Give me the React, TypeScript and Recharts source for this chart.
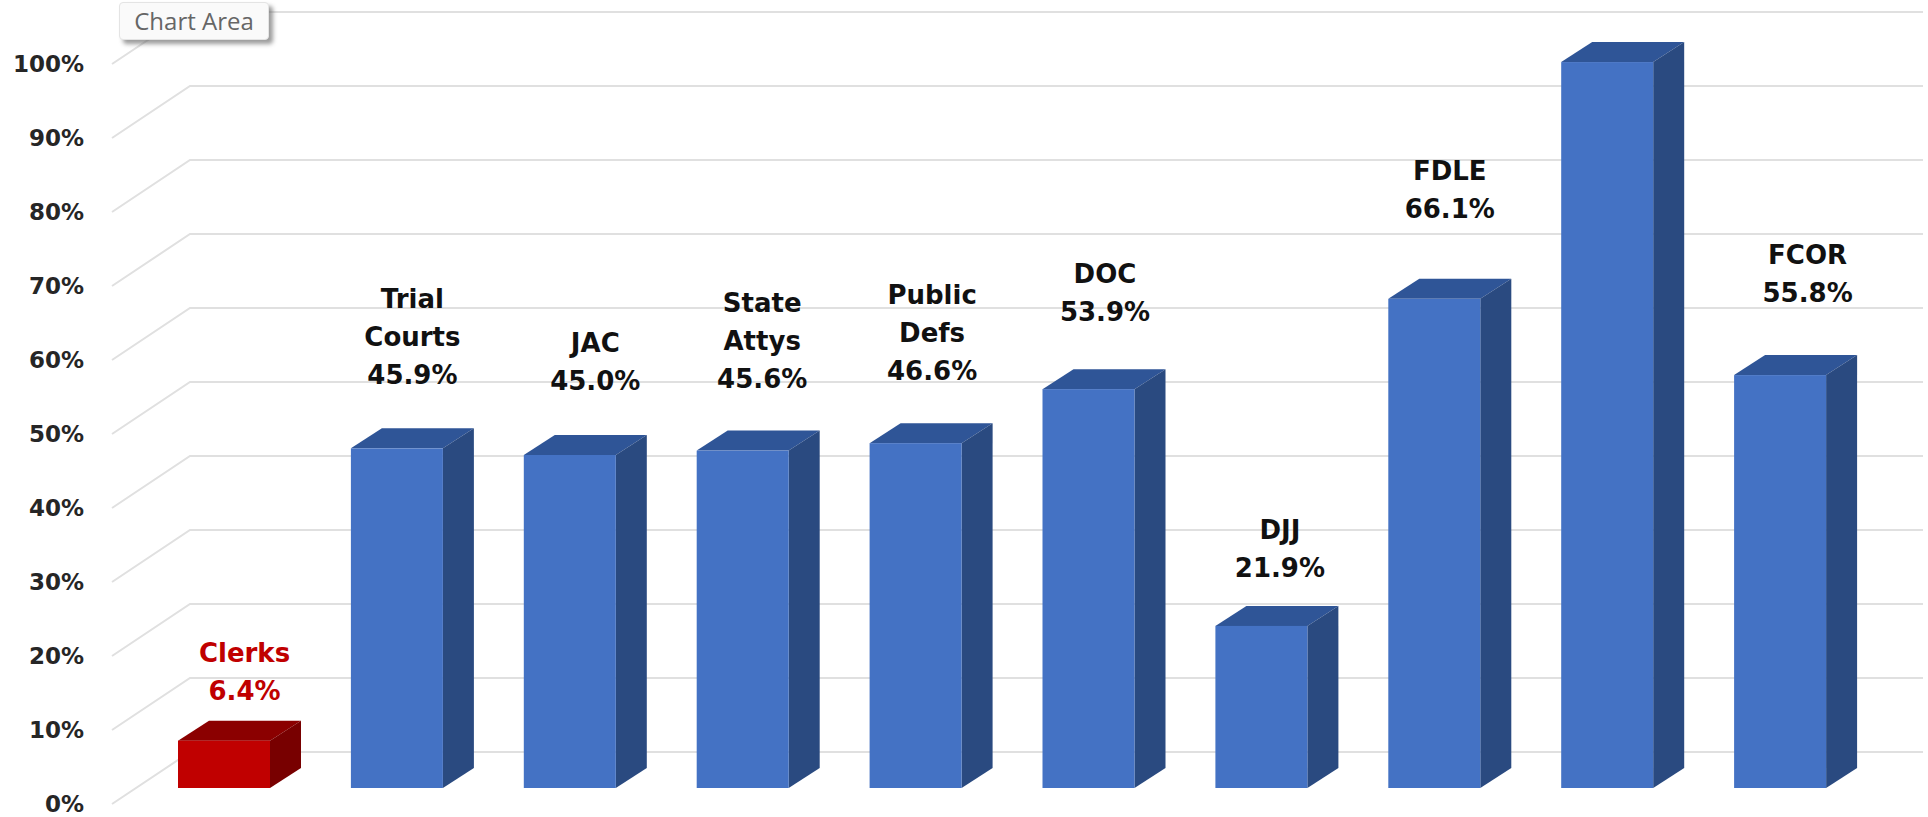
import { Bar, BarChart, CartesianGrid, LabelList, XAxis, YAxis } from "recharts";

const categories = ["Clerks", "Trial Courts", "JAC", "State Attys", "Public Defs", "DOC", "DJJ", "FDLE", "", "FCOR"];
const percents = [6.4, 45.9, 45.0, 45.6, 46.6, 53.9, 21.9, 66.1, 98.1, 55.8];
const percentTicks = [0, 10, 20, 30, 40, 50, 60, 70, 80, 90, 100];

const data = categories.map((name, i) => ({ name, percent: percents[i] }));

// labels were placed by hand in the original, so each has its own offset from the bar
const labelGaps = [50, 73, 74, 72, 72, 77, 58, 90, 0, 82];
const labelShifts = [5, 0, 10, 4, 1, 1, 3, 0, 0, 12];

const DEPTH_X = 31;
const DEPTH_Y = 20;
const LABEL_FONT = "'DejaVu Sans', sans-serif";

const blue = { front: "#4472C4", top: "#2F5597", side: "#2A4A80" };
const red = { front: "#C00000", top: "#8B0000", side: "#780000" };

function Box3D({ x, y, width, height, index }: any) {
  const c = index === 0 ? red : blue;
  const r = x + width;
  const b = y + height;
  return (
    <g>
      <polygon
        points={`${x},${y} ${x + DEPTH_X},${y - DEPTH_Y} ${r + DEPTH_X},${y - DEPTH_Y} ${r},${y}`}
        fill={c.top}
      />
      <polygon
        points={`${r},${y} ${r + DEPTH_X},${y - DEPTH_Y} ${r + DEPTH_X},${b - DEPTH_Y} ${r},${b}`}
        fill={c.side}
      />
      <rect x={x} y={y} width={width} height={height} fill={c.front} />
    </g>
  );
}

function BarLabel({ x, y, width, index }: any) {
  const name = categories[index];
  if (!name) return null;
  const lines = [...name.split(" "), `${percents[index].toFixed(1)}%`];
  const cx = x + width / 2 + DEPTH_X / 2 + labelShifts[index];
  const lastY = y - labelGaps[index];
  return (
    <g>
      {lines.map((line, i) => (
        <text
          key={line}
          x={cx}
          y={lastY - (lines.length - 1 - i) * 38}
          dy={9}
          textAnchor="middle"
          fontFamily={LABEL_FONT}
          fontSize={26}
          fontWeight={700}
          fill={index === 0 ? "#C00000" : "#111111"}
        >
          {line}
        </text>
      ))}
    </g>
  );
}

function PercentTick({ y, payload }: any) {
  return (
    <text
      x={84}
      y={y + 16}
      dy={8}
      textAnchor="end"
      fontFamily={LABEL_FONT}
      fontSize={23}
      fontWeight={700}
      fill="#262626"
    >
      {payload.value}%
    </text>
  );
}

// floor diagonal plus the line along the back wall
function WallLine({ y1, index }: any) {
  return (
    <polyline
      key={index}
      points={`112,${y1 + 16} 190,${y1 - 36} 1923,${y1 - 36}`}
      fill="none"
      stroke="#E0E0E0"
      strokeWidth={2}
    />
  );
}

export default function App() {
  return (
    <div style={{ position: "relative", width: 1928, height: 817, background: "#fff" }}>
      <style>{"body{margin:0}"}</style>
      <BarChart
        width={1928}
        height={817}
        data={data}
        barSize={92}
        margin={{ top: 48, right: 61, bottom: 29, left: 0 }}
      >
        <CartesianGrid vertical={false} horizontal={WallLine} />
        <XAxis dataKey="name" hide />
        <YAxis
          width={138}
          domain={[0, 100]}
          ticks={percentTicks}
          interval={0}
          axisLine={false}
          tickLine={false}
          tick={PercentTick}
        />
        <Bar dataKey="percent" shape={Box3D} isAnimationActive={false}>
          <LabelList dataKey="percent" content={BarLabel} />
        </Bar>
      </BarChart>
      <div
        style={{
          position: "absolute",
          left: 119,
          top: 2,
          width: 150,
          height: 38,
          boxSizing: "border-box",
          background: "#FAFAFA",
          border: "1px solid #E4E4E4",
          borderRadius: 4,
          boxShadow: "4px 4px 4px rgba(90,90,90,0.6)",
          fontFamily: "'Open Sans', sans-serif",
          fontSize: 24,
          lineHeight: "36px",
          textAlign: "center",
          color: "#666666",
        }}
      >
        Chart Area
      </div>
    </div>
  );
}
